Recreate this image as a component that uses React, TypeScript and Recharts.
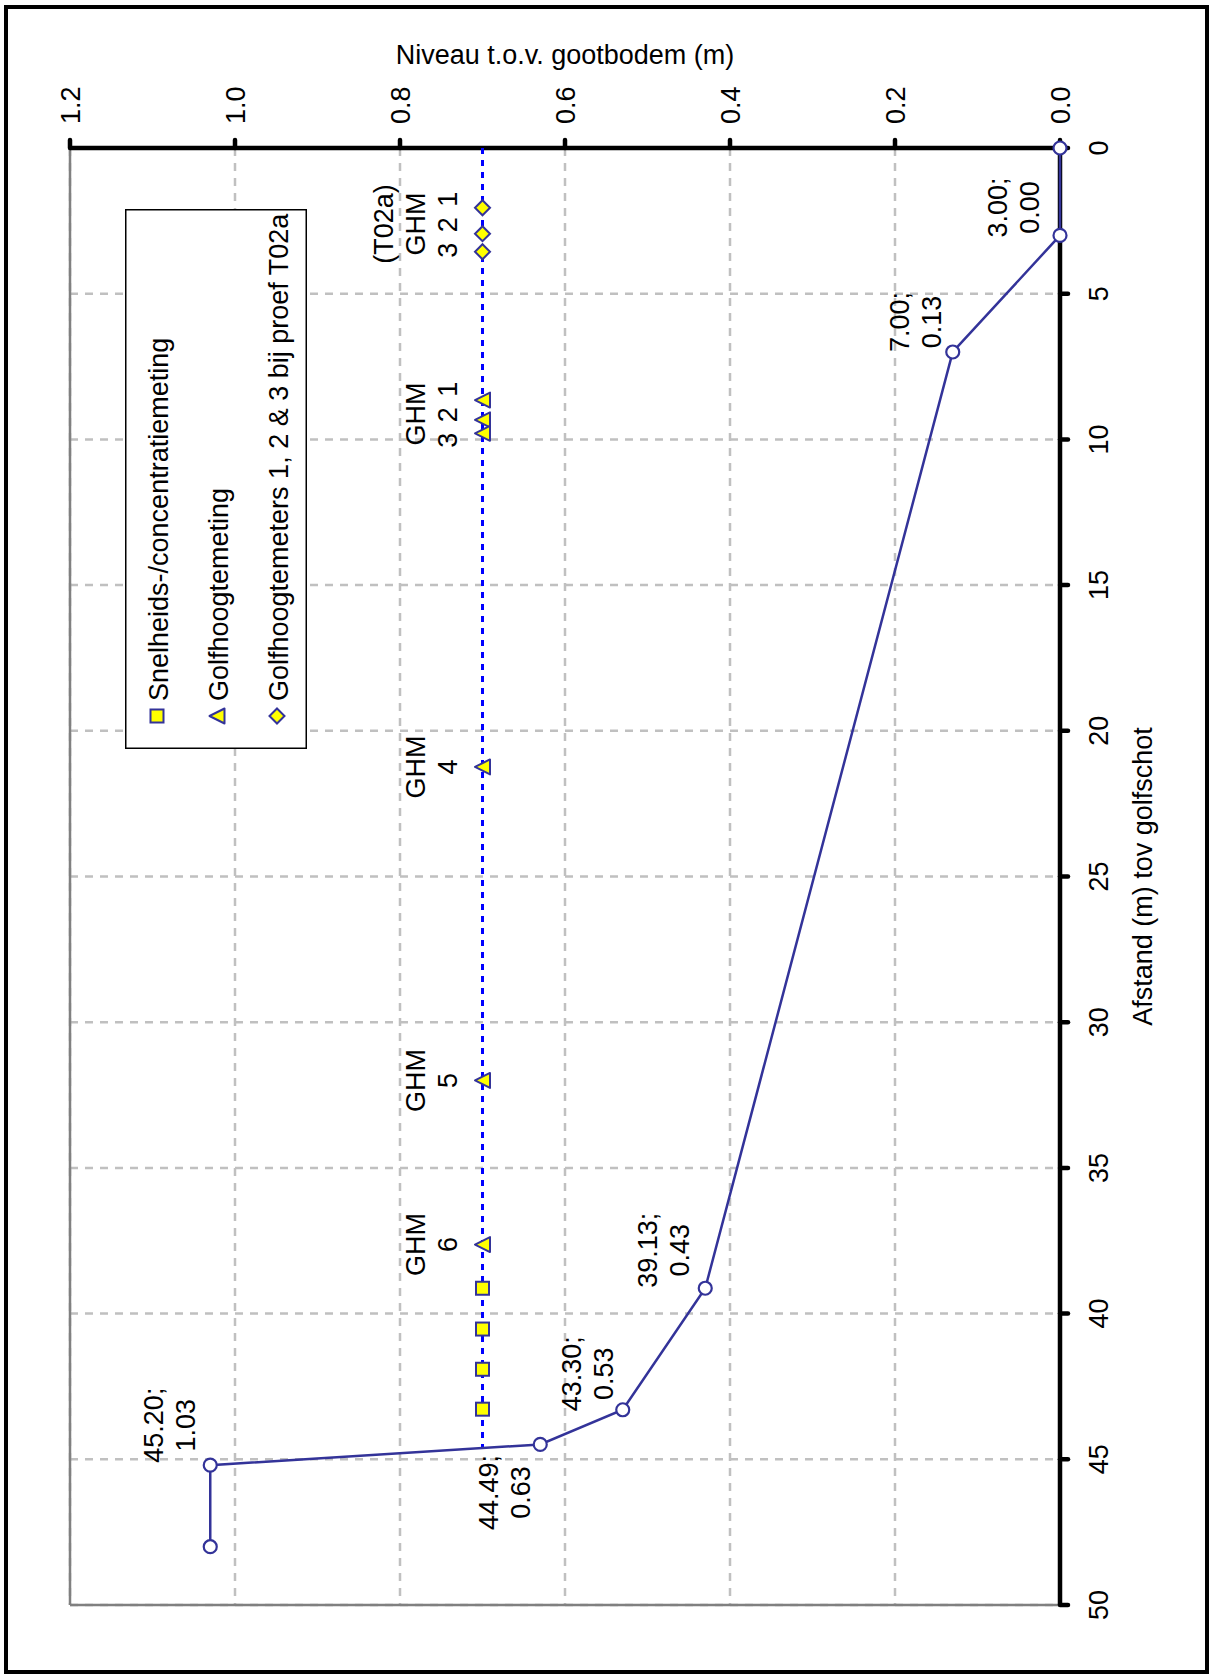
import React from "react";
import {
  ScatterChart,
  Scatter,
  XAxis,
  YAxis,
  CartesianGrid,
  ReferenceLine,
  Legend,
} from "recharts";

// bed profile: distance from the wave board (m) and level above the flume bottom (m)
const profileDist = [0, 3.0, 7.0, 39.13, 43.3, 44.49, 45.2, 48.0];
const profileLevel = [0, 0.0, 0.13, 0.43, 0.53, 0.63, 1.03, 1.03];

// still water line
const waterDist = [0, 44.6];
const waterLevel = [0.7, 0.7];

// instrument positions along the flume (all at water level)
const velocityDist = [39.13, 40.53, 41.91, 43.28];
const ghmDist = [8.65, 9.33, 9.79, 21.24, 32.0, 37.63];
const t02aDist = [2.05, 2.94, 3.56];

// GHM annotations
const noteDist = [2.61, 9.13, 21.24, 32.0, 37.63];
const noteText = [
  ["(T02a)", "GHM", "3 2 1"],
  ["GHM", "3 2 1"],
  ["GHM", "4"],
  ["GHM", "5"],
  ["GHM", "6"],
];

const levelTicks = [0, 0.2, 0.4, 0.6, 0.8, 1.0, 1.2];
const distTicks = [0, 5, 10, 15, 20, 25, 30, 35, 40, 45, 50];

const legendLabels = [
  "Snelheids-/concentratiemeting",
  "Golfhoogtemeting",
  "Golfhoogtemeters 1, 2 & 3 bij proef T02a",
];

const FONT = "'Liberation Sans', Arial, Helvetica, sans-serif";
const NAVY = "#333399";
const YELLOW = "#FFFF00";
const FS = 27;

const W = 1211;
const H = 1674;
const LEFT = 70;
const TOP = 148;
const RIGHT = 1060;
const BOTTOM = 1605;

// label offsets (dx of 2nd line baseline, dy of centre) per profile point
const valueLabelShift: Record<string, [number, number]> = {
  "3.00": [-21, -28],
  "7.00": [-12, -30],
  "39.13": [-16, -38],
  "43.30": [-10, -36],
  "44.49": [-10, 48],
  "45.20": [-15, -40],
};

const profile = profileDist.map((d, i) => ({ dist: d, level: profileLevel[i] }));
const water = waterDist.map((d, i) => ({ dist: d, level: waterLevel[i] }));
const velocity = velocityDist.map((d) => ({ dist: d, level: waterLevel[0] }));
const ghm = ghmDist.map((d) => ({ dist: d, level: waterLevel[0] }));
const t02a = t02aDist.map((d) => ({ dist: d, level: waterLevel[0] }));
const notes = noteDist.map((d, i) => ({ dist: d, level: waterLevel[0], lines: noteText[i] }));

// text rotated a quarter turn, reading bottom to top
const VText = ({ x, y, anchor = "middle", ls, children }: any) => (
  <text
    transform={`translate(${x},${y}) rotate(-90)`}
    textAnchor={anchor}
    fontSize={FS}
    fontFamily={FONT}
    fill="#000"
    letterSpacing={ls}
  >
    {children}
  </text>
);

const square = (cx: number, cy: number) => (
  <rect x={cx - 6.5} y={cy - 6.5} width={13} height={13} fill={YELLOW} stroke={NAVY} strokeWidth={2} />
);
const triangle = (cx: number, cy: number) => (
  <polygon
    points={`${cx - 7.5},${cy} ${cx + 7.5},${cy - 7.5} ${cx + 7.5},${cy + 7.5}`}
    fill={YELLOW}
    stroke={NAVY}
    strokeWidth={2}
    strokeLinejoin="round"
  />
);
const diamond = (cx: number, cy: number) => (
  <polygon
    points={`${cx},${cy - 7.5} ${cx + 7.5},${cy} ${cx},${cy + 7.5} ${cx - 7.5},${cy}`}
    fill={YELLOW}
    stroke={NAVY}
    strokeWidth={2}
  />
);
const markers = [square, triangle, diamond];

const ProfilePoint = ({ cx, cy, payload }: any) => {
  const shift = valueLabelShift[payload.dist.toFixed(2)];
  return (
    <g>
      <circle cx={cx} cy={cy} r={6.5} fill="#fff" stroke={NAVY} strokeWidth={2.2} />
      {shift && (
        <>
          <VText x={cx + shift[0] - 32} y={cy + shift[1]}>{payload.dist.toFixed(2)};</VText>
          <VText x={cx + shift[0]} y={cy + shift[1]}>{payload.level.toFixed(2)}</VText>
        </>
      )}
    </g>
  );
};

const NoteShape = ({ cx, cy, payload }: any) => {
  const n = payload.lines.length;
  return (
    <g>
      {payload.lines.map((t: string, i: number) => (
        <VText key={i} x={cx - 26 - (n - 1 - i) * 32} y={cy} ls={t.includes(" ") ? 1.5 : undefined}>
          {t}
        </VText>
      ))}
    </g>
  );
};

const LevelTick = ({ x, payload }: any) => (
  <VText x={x + 10} y={TOP - 24} anchor="start">
    {Number(payload.value).toFixed(1)}
  </VText>
);

const DistTick = ({ y, payload }: any) => (
  <VText x={RIGHT + 48} y={y}>
    {payload.value}
  </VText>
);

const LevelTitle = () => (
  <text x={(LEFT + RIGHT) / 2} y={64} textAnchor="middle" fontSize={FS} fontFamily={FONT} fill="#000">
    Niveau t.o.v. gootbodem (m)
  </text>
);

const DistTitle = () => <VText x={1152} y={(TOP + BOTTOM) / 2}>Afstand (m) tov golfschot</VText>;

const LegendBox = () => (
  <svg width={182} height={540} style={{ display: "block" }}>
    <rect x={0.75} y={0.75} width={180.5} height={538.5} fill="#fff" stroke="#000" strokeWidth={1.5} />
    {legendLabels.map((label, i) => {
      const mx = 32 + i * 60;
      return (
        <g key={label}>
          {markers[i](mx, 507)}
          <VText x={mx + 11} y={492} anchor="start">
            {label}
          </VText>
        </g>
      );
    })}
  </svg>
);

const none = () => <g />;

export default function App() {
  return (
    <div style={{ position: "absolute", left: 0, top: 0, width: W, height: H, background: "#fff" }}>
      <div
        style={{
          position: "absolute",
          left: 4,
          top: 5,
          width: 1205,
          height: 1669,
          border: "4px solid #000",
          boxSizing: "border-box",
        }}
      />
      <ScatterChart
        width={W}
        height={H}
        margin={{ top: TOP - 40, right: W - RIGHT - 40, bottom: H - BOTTOM, left: LEFT }}
        style={{ position: "absolute", left: 0, top: 0 }}
      >
        <CartesianGrid stroke="#C0C0C0" strokeWidth={2.5} strokeDasharray="8 7" />
        <ReferenceLine x={1.2} stroke="#808080" strokeWidth={2.5} />
        <ReferenceLine y={50} stroke="#808080" strokeWidth={2.5} />
        <XAxis
          xAxisId={0}
          type="number"
          dataKey="level"
          orientation="top"
          reversed
          domain={[0, 1.2]}
          ticks={levelTicks}
          interval={0}
          height={40}
          tickSize={8}
          axisLine={{ stroke: "#000", strokeWidth: 4.5 }}
          tickLine={{ stroke: "#000", strokeWidth: 4.5, strokeLinecap: "round" }}
          tick={<LevelTick />}
          label={<LevelTitle />}
        />
        <YAxis
          yAxisId={0}
          type="number"
          dataKey="dist"
          orientation="right"
          reversed
          domain={[0, 50]}
          ticks={distTicks}
          interval={0}
          width={40}
          tickSize={8}
          axisLine={{ stroke: "#000", strokeWidth: 4.5 }}
          tickLine={{ stroke: "#000", strokeWidth: 4.5, strokeLinecap: "round" }}
          tick={<DistTick />}
          label={<DistTitle />}
        />
        <Legend
          layout="horizontal"
          verticalAlign="middle"
          align="center"
          content={<LegendBox />}
          wrapperStyle={{ position: "absolute", left: 125, top: 209, width: 182, height: 540 }}
        />
        <Scatter
          name="water"
          data={water}
          legendType="none"
          fill="#0000FF"
          line={{ stroke: "#0000FF", strokeWidth: 3, strokeDasharray: "6 6" }}
          lineType="joint"
          shape={none}
          isAnimationActive={false}
        />
        <Scatter
          name="profiel"
          data={profile}
          legendType="none"
          fill={NAVY}
          line={{ stroke: NAVY, strokeWidth: 2.5 }}
          lineType="joint"
          shape={<ProfilePoint />}
          isAnimationActive={false}
        />
        <Scatter
          name="GHM notes"
          data={notes}
          legendType="none"
          shape={<NoteShape />}
          isAnimationActive={false}
        />
        <Scatter
          name={legendLabels[0]}
          data={velocity}
          shape={({ cx, cy }: any) => square(cx, cy)}
          isAnimationActive={false}
        />
        <Scatter
          name={legendLabels[1]}
          data={ghm}
          shape={({ cx, cy }: any) => triangle(cx, cy)}
          isAnimationActive={false}
        />
        <Scatter
          name={legendLabels[2]}
          data={t02a}
          shape={({ cx, cy }: any) => diamond(cx, cy)}
          isAnimationActive={false}
        />
      </ScatterChart>
    </div>
  );
}
